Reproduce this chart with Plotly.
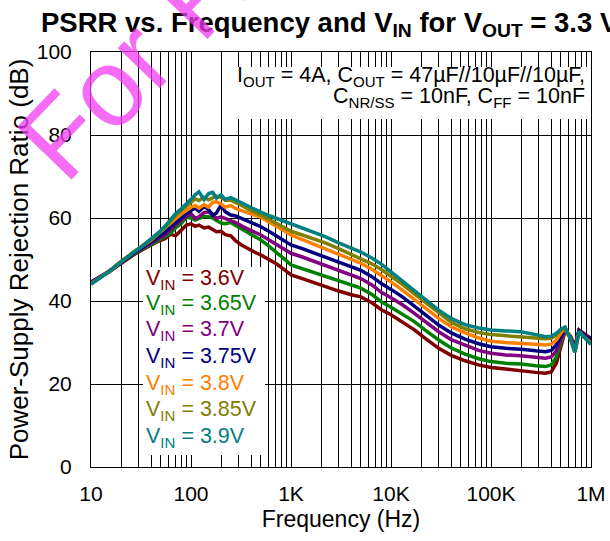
import plotly.graph_objects as go

# ---------------- data ----------------
freq_hz = [10, 12, 15, 18, 22, 27, 33, 40, 47, 55, 62, 70, 80, 90, 100, 110, 120, 135, 150, 165,
           180, 200, 220, 250, 280, 320, 370, 430, 500, 600, 720, 850, 1000, 1300, 1700, 2200,
           3000, 4000, 5000, 6500, 8000, 10000, 13000, 17000, 22000, 30000, 40000, 55000, 75000,
           100000, 140000, 200000, 280000, 350000, 400000, 450000, 500000, 550000, 620000,
           690000, 760000, 850000, 1000000]

psrr_3v6 = [44.4, 45.5, 46.9, 48.3, 49.8, 51.2, 52.4, 53.5, 54.4, 55.0, 56.1, 55.7, 57.1, 58.3, 58.6,
            58.0, 58.3, 57.6, 57.8, 57.3, 56.7, 56.8, 56.0, 55.7, 54.5, 53.5, 52.6, 51.8, 51.1, 50.0,
            48.9, 47.6, 46.3, 45.4, 44.4, 43.4, 42.4, 41.5, 41.0, 39.5, 37.9, 36.7, 35.0, 33.1, 31.0,
            28.6, 26.9, 25.6, 24.6, 24.0, 23.6, 23.1, 22.8, 22.6, 22.9, 25.0, 29.0, 32.7, 31.6, 29.2,
            33.0, 32.1, 31.0]
psrr_3v65 = [44.3, 45.5, 47.0, 48.4, 50.0, 51.4, 52.6, 53.6, 54.6, 55.5, 56.3, 57.6, 58.7, 60.2, 60.0,
             59.5, 59.8, 60.4, 60.3, 60.0, 59.4, 58.8, 58.6, 58.9, 58.2, 57.4, 56.6, 55.6, 54.7, 53.2,
             51.7, 50.2, 48.7, 47.8, 46.9, 46.0, 44.8, 43.8, 43.1, 41.5, 39.8, 38.5, 36.9, 35.1, 33.0,
             30.6, 28.7, 27.2, 26.1, 25.4, 25.0, 24.8, 24.4, 24.2, 24.6, 26.5, 30.0, 32.8, 31.5, 29.0,
             33.0, 32.0, 30.9]
psrr_3v7 = [44.6, 45.7, 47.1, 48.5, 50.2, 51.5, 52.8, 54.0, 55.0, 56.0, 57.2, 58.4, 59.6, 60.4, 61.1,
            59.9, 60.3, 61.3, 61.5, 60.7, 59.9, 60.3, 59.9, 59.3, 58.9, 58.1, 57.3, 56.6, 55.9, 54.8,
            53.7, 52.6, 51.5, 50.6, 49.6, 48.6, 47.3, 46.2, 45.4, 43.8, 42.1, 40.8, 39.1, 37.1, 35.0,
            32.6, 30.7, 29.3, 28.1, 27.4, 27.0, 26.8, 26.4, 26.2, 26.5, 28.0, 30.8, 33.0, 31.4, 28.8,
            32.9, 32.0, 30.8]
psrr_3v75 = [44.5, 45.6, 47.0, 48.4, 50.1, 51.6, 53.0, 54.3, 55.6, 56.5, 57.8, 58.9, 60.0, 61.0, 61.8,
             62.4, 61.6, 62.8, 62.0, 60.7, 61.2, 63.2, 61.5, 60.7, 60.5, 59.9, 59.3, 58.6, 57.9, 56.8,
             55.6, 54.5, 53.5, 52.6, 51.6, 50.6, 49.3, 48.2, 47.4, 45.8, 44.2, 42.8, 41.0, 38.8, 36.7,
             34.2, 32.3, 30.8, 29.7, 29.0, 28.6, 28.4, 28.0, 27.8, 28.1, 29.4, 31.6, 33.3, 31.2, 28.4,
             32.8, 31.8, 30.8]
psrr_3v8 = [44.3, 45.4, 47.0, 48.5, 50.3, 51.9, 53.3, 54.7, 56.2, 57.6, 58.8, 60.0, 61.0, 61.8, 62.6,
            63.0, 62.4, 63.2, 62.6, 63.8, 63.9, 63.4, 62.6, 63.0, 62.3, 61.8, 61.2, 60.7, 60.2, 59.1,
            57.9, 56.8, 55.9, 54.8, 53.7, 52.6, 51.2, 50.0, 49.1, 47.6, 46.2, 44.6, 42.6, 40.4, 38.3,
            35.8, 33.8, 32.3, 31.1, 30.3, 30.0, 29.9, 29.6, 29.4, 29.6, 30.6, 32.3, 33.4, 31.0, 27.8,
            32.5, 31.4, 29.9]
psrr_3v85 = [44.2, 45.5, 47.1, 48.7, 50.4, 51.9, 53.4, 54.8, 56.2, 57.7, 59.2, 60.6, 61.8, 62.9, 63.8,
             64.6, 64.2, 65.0, 64.4, 64.8, 65.3, 65.0, 64.3, 64.3, 63.8, 63.0, 62.2, 61.5, 60.7, 59.7,
             58.6, 57.6, 56.8, 55.9, 55.0, 54.0, 52.6, 51.3, 50.3, 48.9, 47.6, 46.0, 44.0, 41.8, 39.7,
             37.0, 34.9, 33.3, 32.4, 31.9, 31.7, 31.5, 31.1, 30.9, 31.0, 31.8, 33.0, 33.6, 31.0, 27.8,
             32.6, 31.4, 29.8]
psrr_3v9 = [44.0, 45.3, 47.0, 48.6, 50.3, 51.8, 53.3, 54.9, 56.4, 58.0, 59.6, 61.0, 62.2, 63.3, 64.5,
            65.6, 66.3, 64.4, 65.9, 66.2, 64.8, 65.6, 64.5, 64.9, 64.3, 63.7, 62.9, 62.2, 61.4, 60.6,
            59.9, 59.3, 58.7, 57.7, 56.6, 55.5, 54.0, 52.8, 51.8, 50.3, 48.9, 47.0, 44.8, 42.5, 40.4,
            37.8, 35.8, 34.3, 33.5, 33.0, 32.8, 32.6, 31.9, 31.4, 31.5, 32.2, 33.2, 33.7, 31.0, 27.6,
            32.6, 31.3, 29.5]

series_names = ["3.6V", "3.65V", "3.7V", "3.75V", "3.8V", "3.85V", "3.9V"]
series_values = [psrr_3v6, psrr_3v65, psrr_3v7, psrr_3v75, psrr_3v8, psrr_3v85, psrr_3v9]
series_colors = ["#800000", "#008000", "#800080", "#000080", "#FF8000", "#808000", "#008080"]

decade_vals = [10, 100, 1000, 10000, 100000, 1000000]
decade_labels = ["10", "100", "1K", "10K", "100K", "1M"]
y_ticks = [0, 20, 40, 60, 80, 100]

FONT = "Arial, Liberation Sans, sans-serif"

# log grid ticks (1..9 per decade) with labels only at decades
tick_vals, tick_text = [], []
for d, lab in zip(decade_vals[:-1], decade_labels[:-1]):
    for m in range(1, 10):
        tick_vals.append(d * m)
        tick_text.append(lab if m == 1 else "")
tick_vals.append(decade_vals[-1])
tick_text.append(decade_labels[-1])

fig = go.Figure()
for name, vals, col in zip(series_names, series_values, series_colors):
    fig.add_trace(go.Scatter(x=freq_hz, y=vals, mode="lines", name=name,
                             line=dict(color=col, width=3.5), showlegend=False))

W, H = 610, 541
L, R, T, B = 91, 19, 52, 74
pw, ph = W - L - R, H - T - B


def px_x(x):
    return (x - L) / pw


def px_y(y):
    return (H - B - y) / ph


# white boxes behind the texts (they do not overlap any curve)
fig.add_shape(type="rect", xref="paper", yref="paper", layer="above",
              x0=px_x(236), x1=px_x(589), y0=px_y(119), y1=px_y(67),
              fillcolor="white", line=dict(width=0))
fig.add_shape(type="rect", xref="paper", yref="paper", layer="above",
              x0=px_x(143), x1=px_x(265), y0=px_y(455), y1=px_y(267),
              fillcolor="white", line=dict(width=0))

# legend texts
legend_y = [279.3, 304.8, 330.5, 357.0, 384.0, 410.8, 437.5]
for name, col, yy in zip(series_names, series_colors, legend_y):
    fig.add_annotation(xref="paper", yref="paper", x=px_x(144), y=px_y(yy),
                       xanchor="left", yanchor="middle", showarrow=False,
                       text=f"V<sub>IN</sub> = {name}",
                       font=dict(family=FONT, size=21.5, color=col))

# condition text
fig.add_annotation(xref="paper", yref="paper", x=px_x(587), y=px_y(76),
                   xanchor="right", yanchor="middle", showarrow=False,
                   text="I<sub>OUT</sub> = 4A, C<sub>OUT</sub> = 47µF//10µF//10µF,",
                   font=dict(family=FONT, size=21.5, color="black"))
fig.add_annotation(xref="paper", yref="paper", x=px_x(587), y=px_y(97),
                   xanchor="right", yanchor="middle", showarrow=False,
                   text="C<sub>NR/SS</sub> = 10nF, C<sub>FF</sub> = 10nF",
                   font=dict(family=FONT, size=21.5, color="black"))

# watermark
fig.add_annotation(xref="paper", yref="paper", x=px_x(-10), y=px_y(205),
                   xanchor="left", yanchor="bottom", showarrow=False,
                   text="For Reference Only", textangle=-46,
                   font=dict(family=FONT, size=110, color="rgba(240,60,240,0.75)"))

fig.update_layout(
    width=W, height=H,
    margin=dict(l=L, r=R, t=T, b=B),
    paper_bgcolor="white", plot_bgcolor="white",
    font=dict(family=FONT, color="black"),
    title=dict(text="PSRR vs. Frequency and V<sub>IN</sub> for V<sub>OUT</sub> = 3.3 V",
               x=41 / W, xanchor="left", xref="container",
               y=1 - 22 / H, yanchor="middle", yref="container",
               font=dict(family=FONT, size=27.5, color="black", weight="bold")),
)
fig.update_xaxes(type="log", range=[1, 6], tickvals=tick_vals, ticktext=tick_text,
                 showgrid=True, gridcolor="black", gridwidth=1,
                 showline=True, linecolor="black", linewidth=1, mirror=True,
                 ticks="", ticklabelstandoff=8, zeroline=False, automargin=False,
                 tickfont=dict(family=FONT, size=21, color="black"),
                 title=dict(text="Frequency (Hz)", standoff=6,
                            font=dict(family=FONT, size=23, color="black")))
fig.update_yaxes(range=[0, 100], tickvals=y_ticks,
                 showgrid=True, gridcolor="black", gridwidth=1,
                 showline=True, linecolor="black", linewidth=1, mirror=True,
                 ticks="", ticklabelstandoff=14, zeroline=False, automargin=False,
                 tickfont=dict(family=FONT, size=21, color="black"),
                 title=dict(text="Power-Supply Rejection Ratio (dB)", standoff=0,
                            font=dict(family=FONT, size=26, color="black")))

fig.write_html("out.html", config={"displayModeBar": False},
               post_script="document.body.style.margin='0';")
